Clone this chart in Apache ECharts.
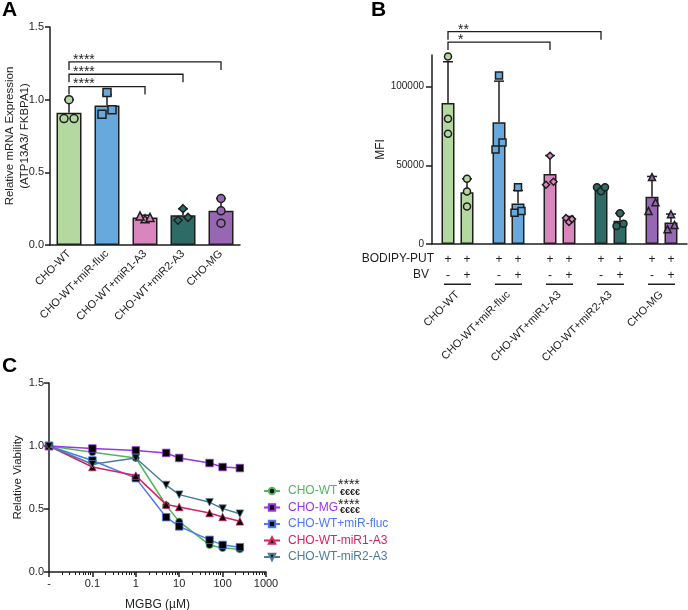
<!DOCTYPE html>
<html>
<head>
<meta charset="utf-8">
<script src="https://cdn.jsdelivr.net/npm/echarts@6/dist/echarts.min.js"></script>
<style>
html,body{margin:0;padding:0;background:#fff;}
#main{width:688px;height:610px;}
</style>
</head>
<body>
<div id="main"></div>
<script>
var FONT = '"Liberation Sans", Arial, sans-serif';
var INK = '#1e1e1e';

// ---- panel A: relative mRNA expression
var groupsA = ['CHO-WT', 'CHO-WT+miR-fluc', 'CHO-WT+miR1-A3', 'CHO-WT+miR2-A3', 'CHO-MG'];
var meanA = [0.91, 0.96, 0.19, 0.205, 0.235];
var sdA = [0.09, 0.075, 0.015, 0.045, 0.085];
var pointsA = [[1.0, 0.87, 0.87], [1.05, 0.90, 0.93], [0.18, 0.20, 0.19], [0.25, 0.17, 0.19], [0.32, 0.235, 0.15]];
var bracketsA = [[0, 4, 1.26], [0, 3, 1.175], [0, 2, 1.09]];
var starsA = ['****', '****', '****'];

// ---- panel B: MFI, BODIPY-PUT with / without BV
var groupsB = ['CHO-WT', 'CHO-WT+miR-fluc', 'CHO-WT+miR1-A3', 'CHO-WT+miR2-A3', 'CHO-MG'];
var bodipyRow = ['+', '+'];
var bvRow = ['-', '+'];
var meanNoBV = [89500, 77300, 44500, 35200, 30000];
var sdNoBV = [26200, 26100, 11700, 1300, 12900];
var meanBV = [32800, 25700, 15600, 14700, 13700];
var sdBV = [8600, 8300, 1900, 4800, 5300];
var pointsNoBV = [[119000, 79500, 70000], [107000, 60000, 64500], [56000, 37600, 39500], [36000, 33500, 36000], [42500, 26500, 21000]];
var pointsBV = [[41500, 33300, 23800], [36000, 19900, 21000], [16500, 14000, 15800], [19500, 11500, 12900], [18900, 9400, 12100]];
var bracketsB = [[0, 3, 134800], [0, 2, 128200]];
var starsB = ['**', '*'];

// ---- panel C: viability vs MGBG dose (control plotted at 0.01)
var doseC = [0.01, 0.1, 1, 5, 10, 50, 100, 250];
var namesC = ['CHO-WT', 'CHO-MG', 'CHO-WT+miR-fluc', 'CHO-WT-miR1-A3', 'CHO-WT-miR2-A3'];
var viabWT = [1.0, 0.95, 0.905, 0.53, 0.40, 0.215, 0.19, 0.18];
var viabMG = [1.0, 0.98, 0.965, 0.945, 0.905, 0.865, 0.833, 0.825];
var viabFluc = [1.0, 0.885, 0.745, 0.435, 0.362, 0.255, 0.215, 0.197];
var viabMiR1 = [1.0, 0.833, 0.765, 0.535, 0.516, 0.468, 0.437, 0.402];
var viabMiR2 = [1.0, 0.855, 0.905, 0.69, 0.614, 0.553, 0.503, 0.463];
var viabC = [viabWT, viabMG, viabFluc, viabMiR1, viabMiR2];
var sigC = ['****', '€€€€'];

// styles
var barColors = ['#b3d9a0', '#67a9dd', '#da86be', '#2f6b66', '#9767b3'];
var markA = ['circle', 'rect', 'triangle', 'diamond', 'circle'];
var markB = ['circle', 'rect', 'diamond', 'circle', 'triangle'];
var jitterA = [[0, -5, 5], [0, -5, 5], [0, -5, 5], [0, -5, 5], [0, 0, 0]];
var jitterNoBV = [[0, 0, 0], [0, -3.5, 3.5], [0, -4, 3.5], [-4, 0, 4], [0, 3.5, -3.5]];
var jitterBV = [[0, 0, 0], [0, -3.5, 3.5], [-3, 0, 3], [0, -3.5, 3.5], [0, -3.5, 3.5]];
var lineColors = ['#55b45e', '#9a34e6', '#4c78f2', '#d42363', '#4b7d9b'];
var markC = ['circle', 'rect', 'rect', 'triangle', 'triangle'];
var rotC = [0, 0, 0, 0, 180];
var PAIR = 9.5; // half distance between the two bars of a pair in B
var STAR_FONT = '14px ' + FONT;

function errorBars(offset) {
  return function (params, api) {
    var i = api.value(0), m = api.value(1), s = api.value(2);
    var p0 = api.coord([i, m]);
    var p1 = api.coord([i, m + s]);
    var cx = p0[0] + offset;
    var st = { stroke: INK, lineWidth: 1.5 };
    return {
      type: 'group',
      children: [
        { type: 'line', shape: { x1: cx, y1: p0[1], x2: cx, y2: p1[1] }, style: st },
        { type: 'line', shape: { x1: cx - 5, y1: p1[1], x2: cx + 5, y2: p1[1] }, style: st }
      ]
    };
  };
}

function brackets(labels, offset, textDx) {
  return function (params, api) {
    var a = api.coord([api.value(0), api.value(2)]);
    var b = api.coord([api.value(1), api.value(2)]);
    var x1 = a[0] + offset, x2 = b[0] + offset, y = a[1];
    return {
      type: 'group',
      children: [
        { type: 'polyline', shape: { points: [[x1, y + 8], [x1, y], [x2, y], [x2, y + 8]] },
          style: { stroke: INK, lineWidth: 1.3, fill: null } },
        { type: 'text', x: x1 + textDx, y: y - 2,
          style: { text: labels[params.dataIndex], fill: INK, font: STAR_FONT, verticalAlign: 'middle' } }
      ]
    };
  };
}

function pointData(points, marks, jitter, base) {
  var out = [];
  points.forEach(function (grp, i) {
    grp.forEach(function (v, k) {
      out.push({ value: [i, v], symbol: marks[i], symbolOffset: [base + jitter[i][k], 0],
        itemStyle: { color: barColors[i] } });
    });
  });
  return out;
}

function barData(values) {
  return values.map(function (v, i) { return { value: v, itemStyle: { color: barColors[i] } }; });
}

function errData(mean, sd) {
  return mean.map(function (m, i) { return [i, m, sd[i]]; });
}

var axisLine = { lineStyle: { color: INK, width: 1.5 } };
var axisTick = { length: 5, lineStyle: { color: INK, width: 1.5 } };
var labelStyle = { color: INK, fontFamily: FONT, fontSize: 11 };

var option = {
  backgroundColor: '#fff',
  animation: false,
  textStyle: { fontFamily: FONT },
  grid: [
    { left: 50, top: 27, width: 190, height: 218, containLabel: false, outerBoundsMode: 'none' },
    { left: 432, top: 55, width: 255, height: 189, containLabel: false, outerBoundsMode: 'none' },
    { left: 49, top: 383, width: 217, height: 189, containLabel: false, outerBoundsMode: 'none' }
  ],
  xAxis: [
    { type: 'category', gridIndex: 0, data: groupsA, axisLine: axisLine,
      axisTick: { alignWithLabel: true, length: 5, lineStyle: { color: INK, width: 1.5 } },
      axisLabel: Object.assign({ rotate: 45, interval: 0, margin: 7 }, labelStyle) },
    { type: 'category', gridIndex: 1, data: groupsB, axisLine: axisLine,
      axisTick: { alignWithLabel: true, length: 5, lineStyle: { color: INK, width: 1.5 } },
      axisLabel: {
        interval: 0, margin: 8,
        formatter: function () {
          return '{p|' + bodipyRow[0] + '}{p|' + bodipyRow[1] + '}\n{p|' + bvRow[0] + '}{p|' + bvRow[1] + '}\n{ln| }';
        },
        rich: {
          p: { width: 19, align: 'center', fontSize: 12, lineHeight: 16, color: INK, fontFamily: FONT },
          ln: { width: 27, height: 1.5, lineHeight: 0.5, fontSize: 1, backgroundColor: INK, align: 'center' }
        }
      } },
    { type: 'category', gridIndex: 1, data: groupsB, position: 'bottom', offset: 41,
      axisLine: { show: false }, axisTick: { show: false },
      axisLabel: Object.assign({ rotate: 45, interval: 0, margin: 8 }, labelStyle) },
    { type: 'log', gridIndex: 2, min: 0.01, max: 1000, logBase: 10,
      name: 'MGBG (µM)', nameLocation: 'middle', nameGap: 27, nameMoveOverlap: false,
      nameTextStyle: { color: INK, fontFamily: FONT, fontSize: 12 },
      axisLine: axisLine, axisTick: axisTick,
      minorTick: { show: true, splitNumber: 9, length: 3, lineStyle: { color: INK, width: 1 } },
      splitLine: { show: false }, minorSplitLine: { show: false },
      axisLabel: Object.assign({
        margin: 6,
        formatter: function (v) { return v < 0.05 ? '-' : String(Number(v.toPrecision(3))); }
      }, labelStyle) }
  ],
  yAxis: [
    { type: 'value', gridIndex: 0, min: 0, max: 1.5, interval: 0.5,
      name: 'Relative mRNA Expression\n(ATP13A3/ FKBPA1)', nameLocation: 'middle', nameGap: 18, nameMoveOverlap: false,
      nameTextStyle: { color: INK, fontFamily: FONT, fontSize: 11.5, lineHeight: 15 },
      axisLine: { show: true, lineStyle: { color: INK, width: 1.5 } }, axisTick: Object.assign({ show: true }, axisTick),
      splitLine: { show: false },
      axisLabel: Object.assign({ margin: 6, formatter: function (v) { return v.toFixed(1); } }, labelStyle) },
    { type: 'value', gridIndex: 1, min: 0, max: 120000, interval: 50000,
      name: 'MFI', nameLocation: 'middle', nameGap: 45, nameMoveOverlap: false,
      nameTextStyle: { color: INK, fontFamily: FONT, fontSize: 12 },
      axisLine: { show: true, lineStyle: { color: INK, width: 1.5 } },
      axisTick: { show: true, length: 6, lineStyle: { color: INK, width: 1.5 }, customValues: [0, 50000, 100000] },
      splitLine: { show: false },
      axisLabel: Object.assign({ margin: 8, customValues: [0, 50000, 100000],
        formatter: function (v) { return String(v); } }, labelStyle, { fontSize: 10 }) },
    { type: 'value', gridIndex: 2, min: 0, max: 1.5, interval: 0.5,
      name: 'Relative Viability', nameLocation: 'middle', nameGap: 25, nameMoveOverlap: false,
      nameTextStyle: { color: INK, fontFamily: FONT, fontSize: 11.5 },
      axisLine: { show: true, lineStyle: { color: INK, width: 1.5 } }, axisTick: Object.assign({ show: true }, axisTick),
      splitLine: { show: false },
      axisLabel: Object.assign({ margin: 5, formatter: function (v) { return v.toFixed(1); } }, labelStyle) }
  ],
  legend: {
    data: namesC.map(function (n, i) { return { name: n, textStyle: { color: lineColors[i] } }; }),
    orient: 'vertical', left: 263, top: 485, padding: 0, itemWidth: 16, itemHeight: 8, itemGap: 4.5,
    textStyle: { fontSize: 12, fontFamily: FONT, padding: [0, 0, 0, 3] }
  },
  graphic: [
    { type: 'text', left: 2, top: 0, style: { text: 'A', font: 'bold 21px ' + FONT, fill: '#000' } },
    { type: 'text', left: 371, top: 0, style: { text: 'B', font: 'bold 21px ' + FONT, fill: '#000' } },
    { type: 'text', left: 2, top: 356, style: { text: 'C', font: 'bold 21px ' + FONT, fill: '#000' } },
    { type: 'text', right: 688 - 434, top: 253, style: { text: 'BODIPY-PUT', font: '12px ' + FONT, fill: INK } },
    { type: 'text', right: 688 - 429, top: 269, style: { text: 'BV', font: '12px ' + FONT, fill: INK } },
    { type: 'text', x: 338, y: 485.5, style: { text: sigC[0], font: STAR_FONT, fill: INK, verticalAlign: 'middle' } },
    { type: 'text', x: 340, y: 492.5, style: { text: sigC[1], font: 'bold 9px ' + FONT, fill: INK, verticalAlign: 'middle' } },
    { type: 'text', x: 338, y: 505, style: { text: sigC[0], font: STAR_FONT, fill: INK, verticalAlign: 'middle' } },
    { type: 'text', x: 340, y: 511, style: { text: sigC[1], font: 'bold 9px ' + FONT, fill: INK, verticalAlign: 'middle' } }
  ],
  series: []
};

// A
option.series.push(
  { type: 'bar', xAxisIndex: 0, yAxisIndex: 0, barWidth: 25, z: 2, data: barData(meanA),
    itemStyle: { borderColor: INK, borderWidth: 1.5 } },
  { type: 'custom', xAxisIndex: 0, yAxisIndex: 0, z: 3, renderItem: errorBars(0), data: errData(meanA, sdA),
    encode: { x: 0, y: 1 } },
  { type: 'scatter', xAxisIndex: 0, yAxisIndex: 0, z: 4, symbolSize: 8,
    itemStyle: { borderColor: INK, borderWidth: 1.5, opacity: 1 }, data: pointData(pointsA, markA, jitterA, 0) },
  { type: 'custom', xAxisIndex: 0, yAxisIndex: 0, z: 5, renderItem: brackets(starsA, 0, 4), data: bracketsA,
    encode: { x: 0, y: 2 } }
);

// B
option.series.push(
  { type: 'bar', xAxisIndex: 1, yAxisIndex: 1, barWidth: 13, barGap: '46%', z: 2, data: barData(meanNoBV),
    itemStyle: { borderColor: INK, borderWidth: 1.5 } },
  { type: 'bar', xAxisIndex: 1, yAxisIndex: 1, barWidth: 13, barGap: '46%', z: 2, data: barData(meanBV),
    itemStyle: { borderColor: INK, borderWidth: 1.5 } },
  { type: 'custom', xAxisIndex: 1, yAxisIndex: 1, z: 3, renderItem: errorBars(-PAIR), data: errData(meanNoBV, sdNoBV),
    encode: { x: 0, y: 1 } },
  { type: 'custom', xAxisIndex: 1, yAxisIndex: 1, z: 3, renderItem: errorBars(PAIR), data: errData(meanBV, sdBV),
    encode: { x: 0, y: 1 } },
  { type: 'scatter', xAxisIndex: 1, yAxisIndex: 1, z: 4, symbolSize: 7,
    itemStyle: { borderColor: INK, borderWidth: 1.5, opacity: 1 }, data: pointData(pointsNoBV, markB, jitterNoBV, -PAIR) },
  { type: 'scatter', xAxisIndex: 1, yAxisIndex: 1, z: 4, symbolSize: 7,
    itemStyle: { borderColor: INK, borderWidth: 1.5, opacity: 1 }, data: pointData(pointsBV, markB, jitterBV, PAIR) },
  { type: 'custom', xAxisIndex: 1, yAxisIndex: 1, z: 5, renderItem: brackets(starsB, -PAIR, 10), data: bracketsB,
    encode: { x: 0, y: 2 } }
);

// C
namesC.forEach(function (n, i) {
  option.series.push({
    type: 'line', name: n, xAxisIndex: 3, yAxisIndex: 2, z: 3 + i * 0.1,
    symbol: markC[i], symbolRotate: rotC[i], symbolSize: markC[i] === 'circle' ? 7 : 7.5,
    lineStyle: { color: lineColors[i], width: 1.5 },
    itemStyle: { color: '#000', borderColor: lineColors[i], borderWidth: 0.8 },
    data: doseC.map(function (d, k) { return [d, viabC[i][k]]; })
  });
});

var chart = echarts.init(document.getElementById('main'));
chart.setOption(option);
</script>
</body>
</html>
